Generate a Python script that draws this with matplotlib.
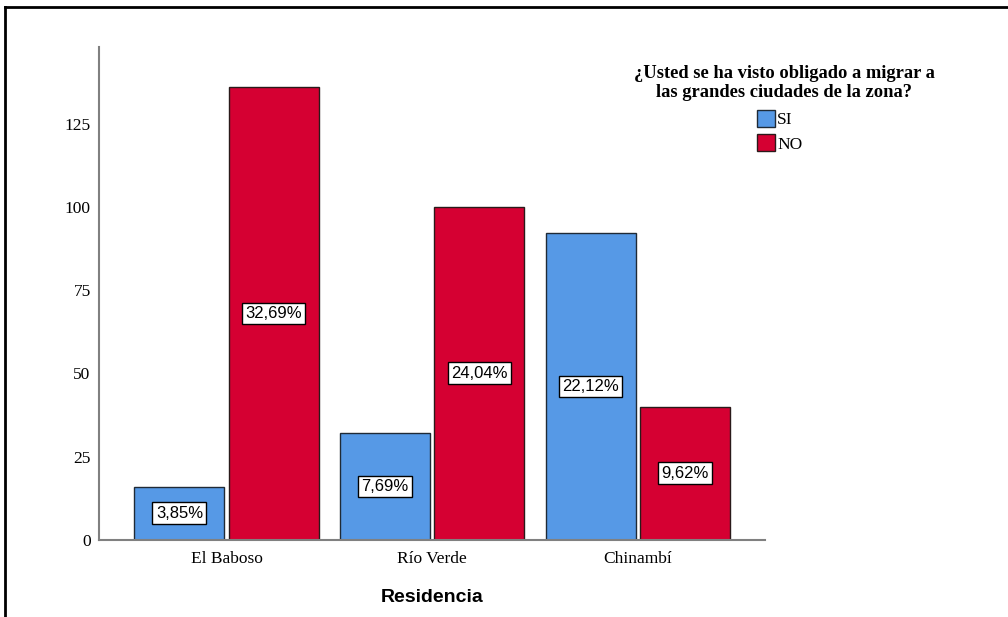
import matplotlib
matplotlib.use("Agg")
import matplotlib.pyplot as plt
from matplotlib.lines import Line2D
from matplotlib.patches import Patch
import numpy as np

categories = ["El Baboso", "Río Verde", "Chinambí"]
si_counts = [16, 32, 92]
no_counts = [136, 100, 40]
si_labels = ["3,85%", "7,69%", "22,12%"]
no_labels = ["32,69%", "24,04%", "9,62%"]
yticks = [0, 25, 50, 75, 100, 125]
series_names = ["SI", "NO"]
legend_title = "¿Usted se ha visto obligado a migrar a\nlas grandes ciudades de la zona?"
xlabel = "Residencia"

blue = "#5699E6"
red = "#D50032"

fig = plt.figure(figsize=(10.08, 6.17), dpi=100)
ax = fig.add_axes([0.0982, 0.125, 0.661, 0.799])

x = np.arange(len(categories))
w = 0.437
off = 0.229
b1 = ax.bar(x - off, si_counts, width=w, color=blue, edgecolor="#1f2a36", linewidth=1.0)
b2 = ax.bar(x + off, no_counts, width=w, color=red, edgecolor="#2a1a1a", linewidth=1.0)

for bars, labs in ((b1, si_labels), (b2, no_labels)):
    for rect, lab in zip(bars, labs):
        h = rect.get_height()
        ax.text(rect.get_x() + rect.get_width() / 2, h / 2, lab,
                ha="center", va="center", fontsize=12, family="Liberation Sans",
                bbox=dict(boxstyle="square,pad=0.2", facecolor="white",
                          edgecolor="black", linewidth=1.0), zorder=5)

ax.set_xlim(-0.62, 2.62)
ax.set_ylim(0, 148)
ax.set_yticks(yticks)
ax.set_xticks(x)
ax.set_xticklabels(categories)
for lab in ax.get_xticklabels() + ax.get_yticklabels():
    lab.set_family("Liberation Serif")
    lab.set_fontsize(12.5)
ax.tick_params(axis="both", length=0, pad=6)
ax.tick_params(axis="x", pad=8)
for s in ("top", "right"):
    ax.spines[s].set_visible(False)
for s in ("left", "bottom"):
    ax.spines[s].set_color("#808080")
    ax.spines[s].set_linewidth(1.5)

ax.set_xlabel(xlabel, fontsize=14, fontweight="bold", family="Liberation Sans", labelpad=16)

# legend title
fig.text(784 / 1008, 1 - 65 / 617, legend_title, ha="center", va="top",
         family="Liberation Serif", fontweight="bold", fontsize=13.3,
         linespacing=1.12, multialignment="center")

handles = [Patch(facecolor=blue, edgecolor="#1f2a36"), Patch(facecolor=red, edgecolor="#2a1a1a")]
leg = fig.legend(handles, series_names, loc="upper left",
                 bbox_to_anchor=(757 / 1008, 1 - 110 / 617),
                 frameon=False,
                 prop={"family": "Liberation Serif", "size": 12.5},
                 handlelength=1.05, handleheight=1.15, handletextpad=0.1,
                 labelspacing=0.32, borderpad=0.0, borderaxespad=0.0)

# outer frame (top and left lines)
fig.add_artist(Line2D([0.005, 1.0], [0.988, 0.988], transform=fig.transFigure, color="black", linewidth=2))
fig.add_artist(Line2D([0.005, 0.005], [0.0, 0.988], transform=fig.transFigure, color="black", linewidth=2))

fig.savefig("out.png", dpi=100)
